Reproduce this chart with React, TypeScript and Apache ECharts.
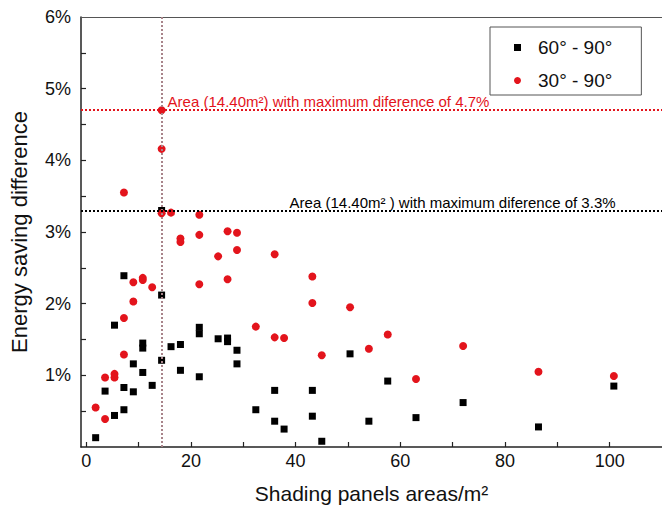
import React, { useEffect, useRef } from "react";
import * as echarts from "echarts";

// Shading panel area (m²) and energy saving difference (%) for each tilt range
const squareAreas = [
  1.8, 3.6, 5.4, 5.4, 7.2, 7.2, 7.2, 9.0, 9.0, 10.8, 10.8, 10.8, 12.6, 14.4, 14.4, 14.4,
  16.2, 18.0, 18.0, 21.6, 21.6, 21.6, 25.2, 27.0, 27.0, 28.8, 28.8, 32.4, 36.0, 36.0,
  37.8, 43.2, 43.2, 45.0, 50.4, 54.0, 57.6, 63.0, 72.0, 86.4, 100.8,
];
const squareDiffs = [
  0.13, 0.78, 1.70, 0.44, 2.39, 0.83, 0.52, 1.16, 0.77, 1.45, 1.38, 1.04, 0.86, 3.3, 2.12, 1.21,
  1.40, 1.43, 1.07, 1.67, 1.58, 0.98, 1.51, 1.52, 1.47, 1.35, 1.16, 0.52, 0.79, 0.36,
  0.25, 0.79, 0.43, 0.08, 1.30, 0.36, 0.92, 0.41, 0.62, 0.28, 0.85,
];
const circleAreas = [
  1.8, 3.6, 3.6, 5.4, 5.4, 7.2, 7.2, 7.2, 9.0, 9.0, 10.8, 10.8, 12.6, 14.4, 14.4, 14.4,
  16.2, 18.0, 18.0, 21.6, 21.6, 21.6, 25.2, 27.0, 27.0, 28.8, 28.8, 32.4, 36.0, 36.0,
  37.8, 43.2, 43.2, 45.0, 50.4, 54.0, 57.6, 63.0, 72.0, 86.4, 100.8,
];
const circleDiffs = [
  0.55, 0.97, 0.39, 1.02, 0.97, 3.55, 1.80, 1.29, 2.30, 2.03, 2.36, 2.33, 2.23, 4.7, 4.16, 3.26,
  3.27, 2.91, 2.86, 3.24, 2.96, 2.27, 2.66, 3.01, 2.34, 2.99, 2.75, 1.68, 2.69, 1.53,
  1.52, 2.38, 2.01, 1.28, 1.95, 1.37, 1.57, 0.95, 1.41, 1.05, 0.99,
];

const seriesNames = ["60° - 90°", "30° - 90°"];
const xLabelValues = [0, 20, 40, 60, 80, 100];
const xTickValues = [0, 10, 20, 30, 40, 50, 60, 70, 80, 90, 100];
const yLabelValues = [1, 2, 3, 4, 5, 6];
const yTickValues = [0.5, 1, 1.5, 2, 2.5, 3, 3.5, 4, 4.5, 5, 5.5];

// Area with the largest difference, and that difference for each range
const peakArea = 14.4;
const peakCircle = 4.7;
const peakSquare = 3.3;

const FONT = "'Liberation Sans', Arial, Helvetica, sans-serif";
const RED = "#e3141c";
const INK = "#111111";

export default function App() {
  const ref = useRef<HTMLDivElement>(null);

  useEffect(() => {
    if (!ref.current) return;
    const chart = echarts.init(ref.current, null, { renderer: "svg" });

    const option: any = {
      animation: false,
      backgroundColor: "#ffffff",
      grid: { left: 79, right: 0, top: 17, bottom: 59 },
      legend: {
        orient: "vertical",
        left: 490,
        top: 27,
        data: seriesNames,
        borderColor: "#555555",
        borderWidth: 1,
        borderRadius: 0,
        padding: [11, 29, 5, 24],
        itemWidth: 7,
        itemHeight: 7,
        itemGap: 14,
        textStyle: { fontSize: 19, color: INK, fontFamily: FONT, padding: [0, 0, 0, 12] },
      },
      xAxis: [
        {
          type: "value",
          min: -1,
          max: 110,
          position: "bottom",
          splitLine: { show: false },
          axisLine: { show: true, onZero: false, lineStyle: { color: "#222222", width: 1.5 } },
          axisTick: {
            show: true,
            inside: true,
            length: 5,
            customValues: xTickValues,
            lineStyle: { color: "#222222", width: 1.2 },
          },
          axisLabel: {
            customValues: xLabelValues,
            fontSize: 18,
            color: INK,
            fontFamily: FONT,
            margin: 5,
          },
          name: "Shading panels areas/m²",
          nameLocation: "middle",
          nameGap: 36,
          nameTextStyle: { fontSize: 21, color: INK, fontFamily: FONT },
        },
        {
          type: "value",
          min: -1,
          max: 110,
          position: "top",
          splitLine: { show: false },
          axisLine: { show: true, onZero: false, lineStyle: { color: "#555555", width: 1.2 } },
          axisTick: { show: false },
          axisLabel: { show: false },
        },
      ],
      yAxis: {
        type: "value",
        min: 0,
        max: 6,
        splitLine: { show: false },
        axisLine: { show: true, onZero: false, lineStyle: { color: "#222222", width: 1.5 } },
        axisTick: {
          show: true,
          inside: true,
          length: 5,
          customValues: yTickValues,
          lineStyle: { color: "#222222", width: 1.2 },
        },
        axisLabel: {
          customValues: yLabelValues,
          formatter: (v: number) => `${v}%`,
          fontSize: 18,
          color: INK,
          fontFamily: FONT,
          margin: 10,
        },
        name: "Energy saving difference",
        nameLocation: "middle",
        nameGap: 51,
        nameTextStyle: { fontSize: 22, color: INK, fontFamily: FONT },
      },
      series: [
        {
          type: "scatter",
          data: [],
          silent: true,
          z: 1,
          markLine: {
            silent: true,
            symbol: ["none", "none"],
            label: { show: false },
            data: [
              { xAxis: peakArea, lineStyle: { color: "#a8848a", type: [2, 2], width: 2 } },
              { yAxis: peakCircle, lineStyle: { color: RED, type: [2, 2], width: 2 } },
              { yAxis: peakSquare, lineStyle: { color: "#000000", type: [2, 2], width: 2 } },
            ],
          },
        },
        {
          name: seriesNames[0],
          type: "scatter",
          symbol: "rect",
          symbolSize: 7,
          z: 3,
          itemStyle: { color: "#000000", opacity: 1 },
          data: squareAreas.map((x, i) => [x, squareDiffs[i]]),
        },
        {
          name: seriesNames[1],
          type: "scatter",
          symbol: "circle",
          symbolSize: 8,
          z: 4,
          itemStyle: { color: RED, opacity: 1 },
          data: circleAreas.map((x, i) => [x, circleDiffs[i]]),
        },
      ],
    };

    chart.setOption(option);

    // Annotations anchored on the peak lines
    const redAt = chart.convertToPixel({ xAxisIndex: 0, yAxisIndex: 0 }, [peakArea, peakCircle]) as number[];
    const blackAt = chart.convertToPixel({ xAxisIndex: 0, yAxisIndex: 0 }, [peakArea, peakSquare]) as number[];
    const areaText = peakArea.toFixed(2);

    chart.setOption({
      graphic: [
        {
          type: "text",
          x: redAt[0] + 6,
          y: redAt[1] - 9,
          z: 10,
          style: {
            text: `Area (${areaText}m²) with maximum diference of ${peakCircle}%`,
            fill: RED,
            fontSize: 15,
            fontFamily: FONT,
            align: "left",
            verticalAlign: "middle",
          },
        },
        {
          type: "text",
          x: blackAt[0] + 128,
          y: blackAt[1] - 8,
          z: 10,
          style: {
            text: `Area (${areaText}m² ) with maximum diference of ${peakSquare}%`,
            fill: "#000000",
            fontSize: 15,
            fontFamily: FONT,
            align: "left",
            verticalAlign: "middle",
          },
        },
      ],
    });

    return () => chart.dispose();
  }, []);

  return (
    <div
      ref={ref}
      style={{ position: "fixed", left: 0, top: 0, width: 662, height: 509, background: "#fff" }}
    />
  );
}
